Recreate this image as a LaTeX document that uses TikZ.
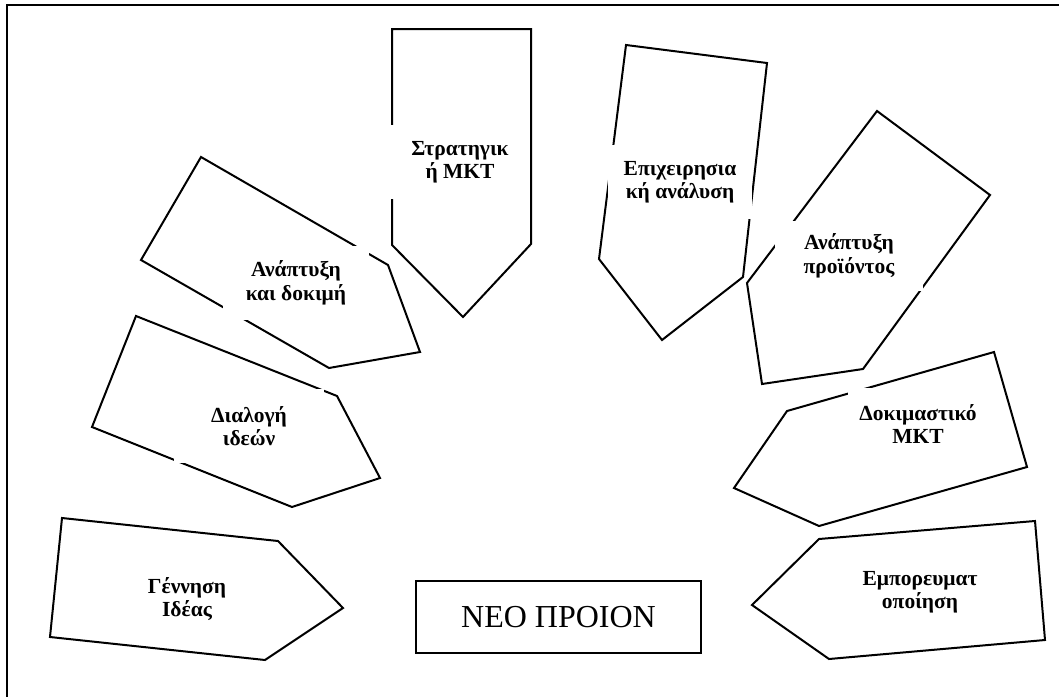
\documentclass[tikz,border=0pt]{standalone}
\usepackage{fontspec}
\setmainfont{Liberation Serif}
\begin{document}
\begin{tikzpicture}[x=1pt,y=-1pt,
  shp/.style={draw=black,line width=2pt,line join=miter},
  lab/.style={font=\fontsize{21.5}{23.5}\selectfont\bfseries,align=center,fill=white,inner sep=0pt,minimum height=74pt},
  big/.style={draw=black,line width=2pt,font=\fontsize{32}{35}\selectfont,minimum width=285pt,minimum height=72pt,inner sep=0pt}]
\useasboundingbox (0,0) rectangle (1059,696);
\clip (0,0) rectangle (1059,696);
\fill[white] (0,0) rectangle (1059,696);
\draw[line width=2.4pt] (7,5) rectangle (1075,712);
% shapes
\draw[shp] (392,29) -- (531,29) -- (531,244) -- (463,317) -- (392,245) -- cycle;
\draw[shp] (626,45) -- (767,63) -- (743,277) -- (662,340) -- (599,259) -- cycle;
\draw[shp] (877,111) -- (990,195) -- (863,369) -- (762,384) -- (747,283) -- cycle;
\draw[shp] (994,352) -- (1027,467) -- (819,526) -- (734,488) -- (787,411) -- cycle;
\draw[shp] (1035,521) -- (1045,640) -- (829,659) -- (752,605) -- (819,539) -- cycle;
\draw[shp] (201,157) -- (388,265) -- (420,352) -- (329,368) -- (141,260) -- cycle;
\draw[shp] (136,316) -- (337,396) -- (380,478) -- (292,507) -- (92,427) -- cycle;
\draw[shp] (62,518) -- (278,541) -- (343,608) -- (265,660) -- (50,637) -- cycle;
% labels
\node[lab,minimum width=138pt] (strat) at (460,162) {Στρατηγικ\\ή ΜΚΤ};
\node[lab,minimum width=144pt] (epix) at (680,182) {Επιχειρησια\\κή ανάλυση};
\node[lab,minimum width=148pt,minimum height=70pt] (anapr) at (849,256) {Ανάπτυξη\\προϊόντος};
\node[lab,minimum width=140pt,minimum height=72pt] (dokim) at (918,424) {Δοκιμαστικό\\ΜΚΤ};
\node[lab,minimum width=146pt] (empor) at (920,592) {Εμπορευματ\\οποίηση};
\node[lab,minimum width=146pt] (anadok) at (296,283) {Ανάπτυξη\\και δοκιμή};
\node[lab,minimum width=150pt] (dial) at (249,426) {Διαλογή\\ιδεών};
\node[lab,minimum width=146pt] (genn) at (187,599) {Γέννηση\\Ιδέας};
\node[big] (neo) at (558.5,617) {ΝΕΟ ΠΡΟΙΟΝ};
\end{tikzpicture}
\end{document}
